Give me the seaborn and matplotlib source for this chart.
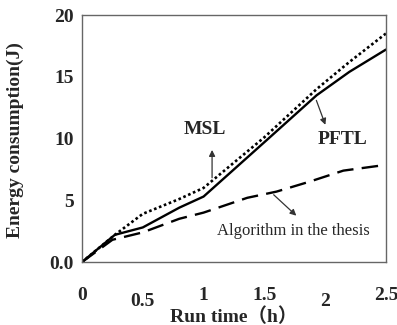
import matplotlib
matplotlib.use("Agg")
import matplotlib.pyplot as plt
import seaborn as sns
import pandas as pd

# Data
time_h = [0, 0.27, 0.5, 0.8, 1.0, 1.5, 1.93, 2.2, 2.5]
pftl = [0, 2.2, 2.8, 4.4, 5.3, 9.7, 13.5, 15.4, 17.2]
msl = [0, 2.2, 3.9, 5.1, 6.0, 10.1, 14.0, 16.2, 18.5]
alg_time = [0, 0.25, 0.5, 0.8, 1.0, 1.36, 1.6, 1.87, 2.15, 2.45]
alg = [0, 1.8, 2.4, 3.5, 4.0, 5.2, 5.7, 6.5, 7.4, 7.8]
x_ticks = [0, 0.5, 1, 1.5, 2, 2.5]
x_tick_labels = ["0", "0.5", "1", "1.5", "2", "2.5"]
y_ticks = [0, 5, 10, 15, 20]
y_tick_labels = ["0.0", "5", "10", "15", "20"]

df = pd.concat([
    pd.DataFrame({"t": time_h, "e": pftl, "s": "PFTL"}),
    pd.DataFrame({"t": time_h, "e": msl, "s": "MSL"}),
    pd.DataFrame({"t": alg_time, "e": alg, "s": "Algorithm in the thesis"}),
])

sns.set_style("white")
serif = ["Liberation Serif", "Noto Sans CJK SC", "DejaVu Serif"]
plt.rcParams["font.family"] = serif

fig = plt.figure(figsize=(3.97, 3.25), dpi=100)
ax = fig.add_axes([0.2066, 0.1938, 0.7654, 0.76])

styles = {
    "PFTL": dict(color="black", lw=1.7, ls="-"),
    "MSL": dict(color="black", lw=1.9, ls=(0, (1, 1))),
    "Algorithm in the thesis": dict(color="black", lw=1.7, ls=(0, (7, 3.5))),
}
for name, st in styles.items():
    sub = df[df["s"] == name]
    sns.lineplot(data=sub, x="t", y="e", ax=ax, color=st["color"],
                 linewidth=st["lw"], linestyle=st["ls"], estimator=None,
                 sort=False, legend=False)

fs = 14
ax.set_xlim(0, 2.5)
ax.set_ylim(0, 20)
ax.set_xticks(x_ticks)
ax.set_xticklabels(x_tick_labels, fontsize=fs, fontweight="bold")
ax.set_yticks(y_ticks)
ax.set_yticklabels(y_tick_labels, fontsize=fs, fontweight="bold")
ax.tick_params(axis="both", direction="in", length=5, width=1, color="#555555")
ax.tick_params(axis="y", pad=6)
for i, tk in enumerate(ax.xaxis.get_major_ticks()):
    tk.set_pad(22 if i in (1, 4) else 18)
for sp in ax.spines.values():
    sp.set_color("#666666")
    sp.set_linewidth(1.0)

ax.set_xlabel("Run time（h）", fontsize=fs, fontweight="bold")
ax.xaxis.label.set_va("center")
ax.xaxis.set_label_coords(0.5, -0.222)
ax.set_ylabel("Energy consumption(J)", fontsize=fs, fontweight="bold")
ax.yaxis.label.set_va("center")
ax.yaxis.set_label_coords(-0.22, 0.494)

ax.annotate("", xy=(1.07, 9.3), xytext=(1.07, 6.6),
            arrowprops=dict(arrowstyle="-|>", color="#333333", lw=0.9, mutation_scale=9))
ax.text(1.01, 10.7, "MSL", ha="center", va="center", fontsize=fs, fontweight="bold")
ax.annotate("", xy=(2.01, 10.9), xytext=(1.92, 13.3),
            arrowprops=dict(arrowstyle="-|>", color="#333333", lw=0.9, mutation_scale=9))
ax.text(2.14, 9.9, "PFTL", ha="center", va="center", fontsize=fs, fontweight="bold")
ax.annotate("", xy=(1.78, 3.6), xytext=(1.56, 5.6),
            arrowprops=dict(arrowstyle="-|>", color="#333333", lw=0.9, mutation_scale=9))
ax.text(1.74, 2.5, "Algorithm in the thesis", ha="center", va="center", fontsize=12)

fig.savefig("out.png", dpi=100)
